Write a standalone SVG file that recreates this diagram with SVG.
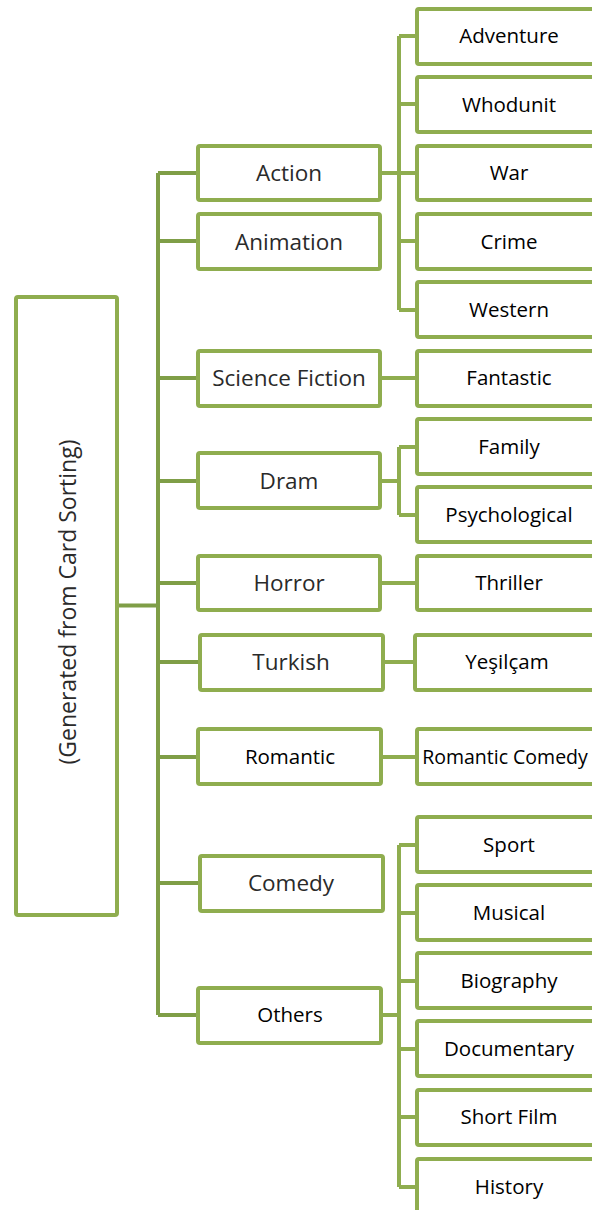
<svg xmlns="http://www.w3.org/2000/svg" width="592" height="1210" viewBox="0 0 592 1210">
<style>
.box{fill:#fff;stroke:#8fad4f;stroke-width:4}
.con{fill:none;stroke:#7f9e47;stroke-width:4}
.con2{fill:none;stroke:#8fad4f;stroke-width:4}
.t1{font-family:"Open Sans","Liberation Sans",sans-serif;font-size:22.5px;fill:#2a2a2a;text-anchor:middle;dominant-baseline:central}
.t2{font-family:"Open Sans","Liberation Sans",sans-serif;font-size:20.5px;fill:#000;text-anchor:middle;dominant-baseline:central}
</style>
<g id="connectors">
<path class="con" d="M117 605.5H158M158 173V1015M158 173H198M158 241H198M158 378H198M158 481H198M158 583H198M158 662H200M158 757H198M158 883H200M158 1015H198"/>
<path class="con2" d="M380 173H399M399 36V310M399 36H417M399 104H417M399 173H417M399 241H417M399 310H417"/>
<path class="con2" d="M380 378H417"/>
<path class="con2" d="M380 481H399M399 447V515M399 447H417M399 515H417"/>
<path class="con2" d="M380 583H417"/>
<path class="con2" d="M383 662H415"/>
<path class="con2" d="M381 757H417"/>
<path class="con2" d="M381 1015H399M399 845V1187M399 845H417M399 913H417M399 981H417M399 1049H417M399 1117H417M399 1187H417"/>
</g>
<g id="root"><rect class="box" x="16" y="297" width="101" height="618" rx="2"/><text class="t1" transform="translate(67,602) rotate(-90)" style="font-size:23px">(Generated from Card Sorting)</text></g>
<g id="action"><rect class="box" x="198" y="146" width="182" height="54" rx="2"/><text class="t1" x="289" y="172">Action</text></g>
<g id="animation"><rect class="box" x="198" y="214" width="182" height="55" rx="2"/><text class="t1" x="289" y="241">Animation</text></g>
<g id="scifi"><rect class="box" x="198" y="351" width="182" height="55" rx="2"/><text class="t1" x="289" y="377">Science Fiction</text></g>
<g id="dram"><rect class="box" x="198" y="453" width="182" height="55" rx="2"/><text class="t1" x="289" y="480">Dram</text></g>
<g id="horror"><rect class="box" x="198" y="556" width="182" height="54" rx="2"/><text class="t1" x="289" y="582">Horror</text></g>
<g id="turkish"><rect class="box" x="200" y="635" width="183" height="55" rx="2"/><text class="t1" x="291" y="661">Turkish</text></g>
<g id="romantic"><rect class="box" x="198" y="729" width="183" height="55" rx="2"/><text class="t2" x="290" y="756">Romantic</text></g>
<g id="comedy"><rect class="box" x="200" y="856" width="183" height="55" rx="2"/><text class="t1" x="291" y="882">Comedy</text></g>
<g id="others"><rect class="box" x="198" y="988" width="183" height="55" rx="2"/><text class="t2" x="290" y="1014">Others</text></g>
<g id="adventure"><rect class="box" x="417" y="9" width="187" height="55" rx="2"/><text class="t2" x="509" y="35">Adventure</text></g>
<g id="whodunit"><rect class="box" x="417" y="77" width="187" height="55" rx="2"/><text class="t2" x="509" y="104">Whodunit</text></g>
<g id="war"><rect class="box" x="417" y="146" width="187" height="54" rx="2"/><text class="t2" x="509" y="172">War</text></g>
<g id="crime"><rect class="box" x="417" y="214" width="187" height="55" rx="2"/><text class="t2" x="509" y="241">Crime</text></g>
<g id="western"><rect class="box" x="417" y="282" width="187" height="55" rx="2"/><text class="t2" x="509" y="309">Western</text></g>
<g id="fantastic"><rect class="box" x="417" y="351" width="187" height="55" rx="2"/><text class="t2" x="509" y="377">Fantastic</text></g>
<g id="family"><rect class="box" x="417" y="419" width="187" height="55" rx="2"/><text class="t2" x="509" y="446">Family</text></g>
<g id="psychological"><rect class="box" x="417" y="487" width="187" height="55" rx="2"/><text class="t2" x="509" y="514">Psychological</text></g>
<g id="thriller"><rect class="box" x="417" y="556" width="187" height="54" rx="2"/><text class="t2" x="509" y="582">Thriller</text></g>
<g id="yesilcam"><rect class="box" x="415" y="635" width="189" height="55" rx="2"/><text class="t2" x="507" y="661">Yeşilçam</text></g>
<g id="romcom"><rect class="box" x="417" y="729" width="187" height="55" rx="2"/><text class="t2" x="505" y="756" style="font-size:19.5px">Romantic Comedy</text></g>
<g id="sport"><rect class="box" x="417" y="817" width="187" height="55" rx="2"/><text class="t2" x="509" y="844">Sport</text></g>
<g id="musical"><rect class="box" x="417" y="885" width="187" height="55" rx="2"/><text class="t2" x="509" y="912">Musical</text></g>
<g id="biography"><rect class="box" x="417" y="953" width="187" height="55" rx="2"/><text class="t2" x="509" y="980">Biography</text></g>
<g id="documentary"><rect class="box" x="417" y="1021" width="187" height="55" rx="2"/><text class="t2" x="509" y="1048">Documentary</text></g>
<g id="shortfilm"><rect class="box" x="417" y="1090" width="187" height="55" rx="2"/><text class="t2" x="509" y="1116">Short Film</text></g>
<g id="history"><rect class="box" x="417" y="1159" width="187" height="60" rx="2"/><text class="t2" x="509" y="1186">History</text></g>
</svg>
